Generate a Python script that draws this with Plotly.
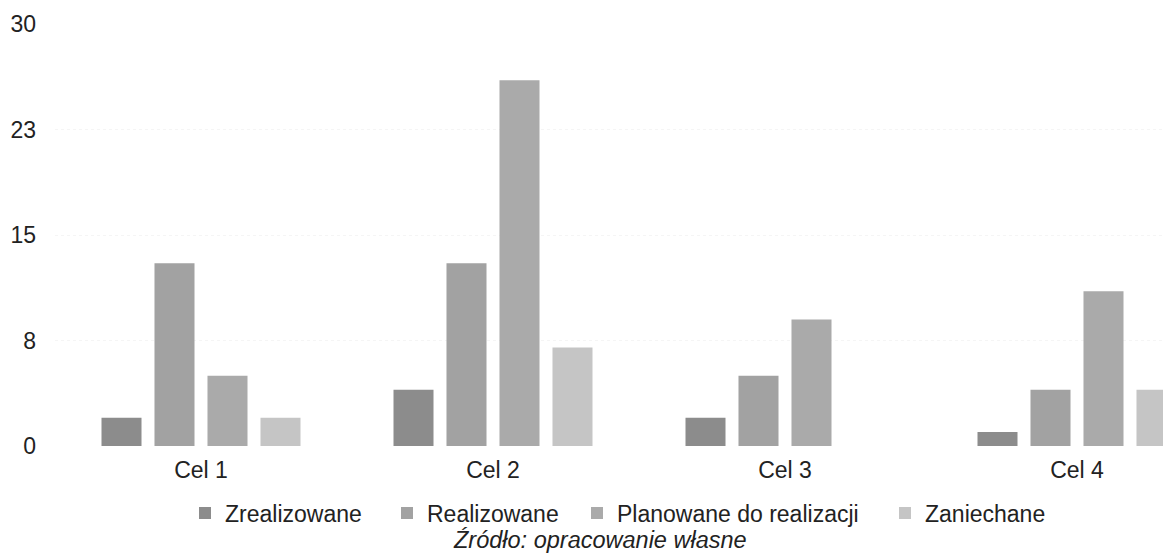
import plotly.graph_objects as go

categories = ["Cel 1", "Cel 2", "Cel 3", "Cel 4"]
series_names = ["Zrealizowane", "Realizowane", "Planowane do realizacji", "Zaniechane"]
zrealizowane = [2, 4, 2, 1]
realizowane = [13, 13, 5, 4]
planowane = [5, 26, 9, 11]
zaniechane = [2, 7, 0, 4]
y_tick_values = [0, 7.5, 15, 22.5, 30]
y_tick_labels = ["0", "8", "15", "23", "30"]
source_text = "<i>Źródło: opracowanie własne</i>"

series_values = [zrealizowane, realizowane, planowane, zaniechane]
colors = ["#8c8c8c", "#a2a2a2", "#aaaaaa", "#c5c5c5"]

FONT = "Liberation Sans, Arial, sans-serif"
FS = 23
W, H = 1163, 559
ML, MT, MB = 55, 24, 113
plot_w = W - ML
plot_h = H - MT - MB

def px_x(px):
    return (px - ML) / plot_w

def px_y(py):
    return (H - MB - py) / plot_h

xpos = list(range(len(categories)))
legend_ids = ["legend", "legend2", "legend3", "legend4"]
legend_text_start = [225, 427, 617, 925]

fig = go.Figure()
for i, (name, vals) in enumerate(zip(series_names, series_values)):
    fig.add_trace(go.Bar(
        x=xpos, y=vals, name=name,
        marker=dict(color=colors[i], line=dict(width=0)),
        legend=legend_ids[i],
    ))

layout_legends = {}
for i, lid in enumerate(legend_ids):
    layout_legends[lid] = dict(
        x=px_x(legend_text_start[i] - 40), xanchor="left",
        y=px_y(513), yanchor="middle",
        orientation="h", bgcolor="rgba(0,0,0,0)",
        font=dict(family=FONT, size=FS, color="#222222"),
        itemwidth=30,
    )

fig.update_layout(
    width=W, height=H,
    margin=dict(l=ML, r=0, t=MT, b=MB),
    paper_bgcolor="white", plot_bgcolor="white",
    barmode="group", bargap=0.274, bargroupgap=0.245,
    showlegend=True,
    font=dict(family=FONT, size=FS, color="#222222"),
    xaxis=dict(
        tickmode="array", tickvals=xpos, ticktext=categories,
        range=[-0.5, -0.5 + plot_w / 292.0],
        showgrid=False, zeroline=False, showline=False, ticks="",
        tickfont=dict(family=FONT, size=FS, color="#222222"),
        ticklabelstandoff=8,
    ),
    yaxis=dict(
        range=[0, 30], tickmode="array", tickvals=y_tick_values, ticktext=y_tick_labels,
        showgrid=True, gridcolor="#f5f5f5", griddash="dot", gridwidth=1,
        zeroline=False, showline=False, ticks="",
        tickfont=dict(family=FONT, size=FS, color="#222222"),
        ticklabelstandoff=18,
    ),
    annotations=[dict(
        text=source_text, xref="paper", yref="paper",
        x=px_x(600), y=px_y(540), xanchor="center", yanchor="middle",
        showarrow=False, font=dict(family=FONT, size=23.5, color="#222222"),
    )],
    **layout_legends,
)

fig.write_html(
    "out.html",
    config={"displayModeBar": False},
    post_script="document.body.style.margin='0';document.body.style.padding='0';",
)
